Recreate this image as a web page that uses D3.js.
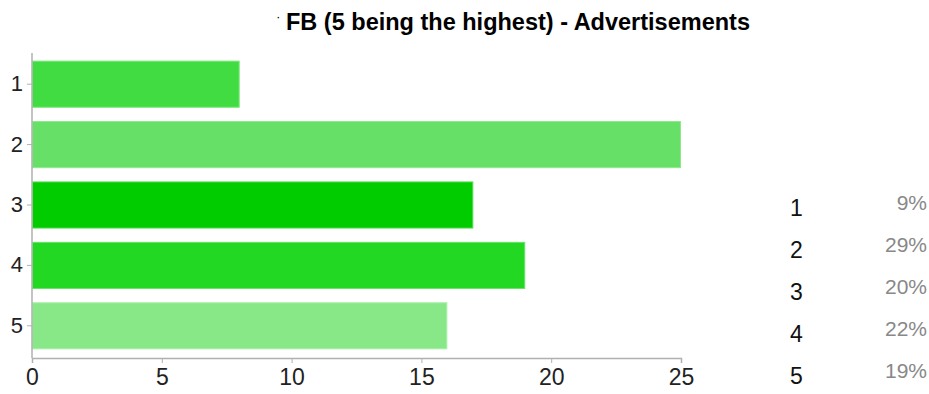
<!DOCTYPE html>
<html><head><meta charset="utf-8">
<script src="https://cdn.jsdelivr.net/npm/d3@7"></script>
<style>body{margin:0;background:#fff}svg{display:block}</style>
</head><body>
<script>
const categories = ["1","2","3","4","5"];
const values = [8, 25, 17, 19, 16];
const percents = ["9%","29%","20%","22%","19%"];
const colors = ["#41dc41","#66e066","#00cc00","#22d822","#88e888"];
const strokes = ["#7ae87a","#8ee98e","#55dd55","#66e466","#aaf0aa"];
const xTicks = [0,5,10,15,20,25];
const title = "FB (5 being the highest) - Advertisements";

const W = 929, H = 394;
const svg = d3.select("body").append("svg").attr("width", W).attr("height", H);
const font = "'Liberation Sans', Arial, sans-serif";

const x = d3.scaleLinear().domain([0,25]).range([32, 681]);
const y = d3.scaleBand().domain(categories).range([54, 356]).paddingInner(0.22).paddingOuter(0.11);

// title
const t = svg.append("text").attr("x", 277).attr("y", 30)
  .attr("font-family", font).attr("font-size", 23.5).attr("font-weight", "bold").attr("fill", "#000");
t.append("tspan").attr("font-size", 9).attr("dy", -9).text("·");
t.append("tspan").attr("dy", 9).attr("dx", 6).text(title);

// bars
svg.append("g").selectAll("rect").data(values).join("rect")
  .attr("x", x(0) + 0.5)
  .attr("y", (d,i) => y(categories[i]) + 0.5)
  .attr("width", d => x(d) - x(0) - 1)
  .attr("height", y.bandwidth() - 1)
  .attr("fill", (d,i) => colors[i])
  .attr("stroke", (d,i) => strokes[i]).attr("stroke-width", 1);

// x axis
const xa = svg.append("g").attr("transform", "translate(0,358)")
  .call(d3.axisBottom(x).tickValues(xTicks).tickSize(5).tickPadding(6));
xa.select(".domain").attr("stroke", "#b0b0b0").attr("stroke-width", 1.5);
xa.selectAll(".tick line").attr("stroke", "#b0b0b0");
xa.selectAll("text").attr("font-family", font).attr("font-size", 23).attr("fill", "#222");

// y axis
const ya = svg.append("g").attr("transform", "translate(32,0)")
  .call(d3.axisLeft(y).tickSize(5).tickPadding(4).tickSizeOuter(0));
ya.select(".domain").attr("d", "M0,53V358").attr("stroke", "#b0b0b0").attr("stroke-width", 1.5);
ya.selectAll(".tick line").attr("stroke", "#b0b0b0");
ya.selectAll("text").attr("font-family", font).attr("font-size", 22).attr("fill", "#222");

// legend
const legY = d3.scalePoint().domain(categories).range([208, 376]);
const lg = svg.append("g");
lg.selectAll("text.lab").data(categories).join("text").attr("class","lab")
  .attr("x", 790).attr("y", d => legY(d)).attr("dy", "0.35em")
  .attr("font-family", font).attr("font-size", 23).attr("fill", "#111")
  .text(d => d);
lg.selectAll("text.pct").data(percents).join("text").attr("class","pct")
  .attr("x", 927).attr("y", (d,i) => legY(categories[i]) - 5).attr("dy", "0.35em")
  .attr("text-anchor", "end")
  .attr("font-family", font).attr("font-size", 21).attr("fill", "#888")
  .text(d => d);
</script>
</body></html>
